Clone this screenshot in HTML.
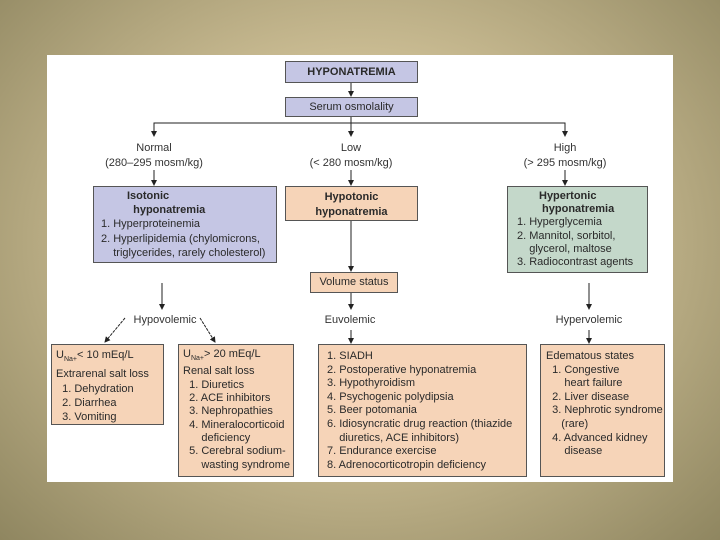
<!DOCTYPE html>
<html><head><style>
body{margin:0;width:720px;height:540px;overflow:hidden;background:radial-gradient(ellipse at 50% 45%,#ddd2ae 0%,#c9bb92 45%,#8f8660 100%);font-family:"Liberation Sans",sans-serif;}
#p{position:absolute;left:47px;top:55px;width:626px;height:427px;background:#fff;}
.b{position:absolute;border:1px solid #555;box-sizing:border-box;font-size:11px;line-height:13.5px;color:#2a2a2a;white-space:nowrap;}
.bl{background:#c5c6e4}.pe{background:#f6d4b8}.gr{background:#c4d8ca}
.t{position:absolute;font-size:11px;color:#333;text-align:center;line-height:15px;}
svg{position:absolute;left:0;top:0}
b{font-weight:bold}
</style></head><body>
<div id="p"></div>
<svg width="720" height="540">
<defs><marker id="a" markerWidth="6" markerHeight="6" refX="5" refY="3" orient="auto"><path d="M0,0L6,3L0,6z" fill="#222"/></marker></defs>
<g stroke="#222" stroke-width="1" fill="none">
<line x1="351" y1="83" x2="351" y2="96" marker-end="url(#a)"/>
<line x1="351" y1="117" x2="351" y2="136" marker-end="url(#a)"/>
<polyline points="154,136 154,123 565,123 565,136" />
<line x1="154" y1="123" x2="154" y2="136" marker-end="url(#a)"/>
<line x1="565" y1="123" x2="565" y2="136" marker-end="url(#a)"/>
<line x1="154" y1="170" x2="154" y2="185" marker-end="url(#a)"/>
<line x1="351" y1="170" x2="351" y2="185" marker-end="url(#a)"/>
<line x1="565" y1="170" x2="565" y2="185" marker-end="url(#a)"/>
<line x1="351" y1="221" x2="351" y2="271" marker-end="url(#a)"/>
<line x1="162" y1="283" x2="162" y2="309" marker-end="url(#a)"/>
<line x1="351" y1="293" x2="351" y2="309" marker-end="url(#a)"/>
<line x1="589" y1="283" x2="589" y2="309" marker-end="url(#a)"/>
<line x1="351" y1="330" x2="351" y2="343" marker-end="url(#a)"/>
<line x1="589" y1="330" x2="589" y2="343" marker-end="url(#a)"/>
<line x1="125" y1="318" x2="105" y2="342" stroke-dasharray="3,1" marker-end="url(#a)"/>
<line x1="200" y1="318" x2="215" y2="342" stroke-dasharray="3,1" marker-end="url(#a)"/>
</g></svg>
<div class="b bl" style="left:285px;top:61px;width:133px;height:22px;text-align:center;line-height:20px"><b>HYPONATREMIA</b></div>
<div class="b bl" style="left:285px;top:97px;width:133px;height:20px;text-align:center;line-height:18px">Serum osmolality</div>
<div class="t" style="left:84px;top:141px;width:140px">Normal<br>(280–295 mosm/kg)</div>
<div class="t" style="left:281px;top:141px;width:140px">Low<br>(&lt; 280 mosm/kg)</div>
<div class="t" style="left:495px;top:141px;width:140px">High<br>(&gt; 295 mosm/kg)</div>
<div class="b bl" style="left:93px;top:186px;width:184px;height:77px;padding:2px 0 0 7px;line-height:14.2px"><div style="padding-left:26px"><b>Isotonic<br>&nbsp;&nbsp;hyponatremia</b></div>1. Hyperproteinemia<br>2. Hyperlipidemia (chylomicrons,<br>&nbsp;&nbsp;&nbsp;&nbsp;triglycerides, rarely cholesterol)</div>
<div class="b pe" style="left:285px;top:186px;width:133px;height:35px;text-align:center;padding-top:3px;line-height:14.5px"><b>Hypotonic<br>hyponatremia</b></div>
<div class="b gr" style="left:507px;top:186px;width:141px;height:87px;padding:3px 0 0 9px;line-height:13.2px"><div style="padding-left:22px"><b>Hypertonic<br>&nbsp;hyponatremia</b></div>1. Hyperglycemia<br>2. Mannitol, sorbitol,<br>&nbsp;&nbsp;&nbsp;&nbsp;glycerol, maltose<br>3. Radiocontrast agents</div>
<div class="b pe" style="left:310px;top:272px;width:88px;height:21px;text-align:center;line-height:19px">Volume status</div>
<div class="t" style="left:117px;top:313px;width:96px">Hypovolemic</div>
<div class="t" style="left:310px;top:313px;width:80px">Euvolemic</div>
<div class="t" style="left:541px;top:313px;width:96px">Hypervolemic</div>
<div class="b pe" style="left:51px;top:344px;width:113px;height:81px;padding:3px 0 0 4px;line-height:14.2px">U<sub style="font-size:7px">Na+</sub>&lt; 10 mEq/L<br>Extrarenal salt loss<br>&nbsp;&nbsp;1. Dehydration<br>&nbsp;&nbsp;2. Diarrhea<br>&nbsp;&nbsp;3. Vomiting</div>
<div class="b pe" style="left:178px;top:344px;width:116px;height:133px;padding:3px 0 0 4px;line-height:13.3px">U<sub style="font-size:7px">Na+</sub>&gt; 20 mEq/L<br>Renal salt loss<br>&nbsp;&nbsp;1. Diuretics<br>&nbsp;&nbsp;2. ACE inhibitors<br>&nbsp;&nbsp;3. Nephropathies<br>&nbsp;&nbsp;4. Mineralocorticoid<br>&nbsp;&nbsp;&nbsp;&nbsp;&nbsp;&nbsp;deficiency<br>&nbsp;&nbsp;5. Cerebral sodium-<br>&nbsp;&nbsp;&nbsp;&nbsp;&nbsp;&nbsp;wasting syndrome</div>
<div class="b pe" style="left:318px;top:344px;width:209px;height:133px;padding:5px 0 0 8px;line-height:13.6px">1. SIADH<br>2. Postoperative hyponatremia<br>3. Hypothyroidism<br>4. Psychogenic polydipsia<br>5. Beer potomania<br>6. Idiosyncratic drug reaction (thiazide<br>&nbsp;&nbsp;&nbsp;&nbsp;diuretics, ACE inhibitors)<br>7. Endurance exercise<br>8. Adrenocorticotropin deficiency</div>
<div class="b pe" style="left:540px;top:344px;width:125px;height:133px;padding:5px 0 0 5px;line-height:13.6px">Edematous states<br>&nbsp;&nbsp;1. Congestive<br>&nbsp;&nbsp;&nbsp;&nbsp;&nbsp;&nbsp;heart failure<br>&nbsp;&nbsp;2. Liver disease<br>&nbsp;&nbsp;3. Nephrotic syndrome<br>&nbsp;&nbsp;&nbsp;&nbsp;&nbsp;(rare)<br>&nbsp;&nbsp;4. Advanced kidney<br>&nbsp;&nbsp;&nbsp;&nbsp;&nbsp;&nbsp;disease</div>
</body></html>
